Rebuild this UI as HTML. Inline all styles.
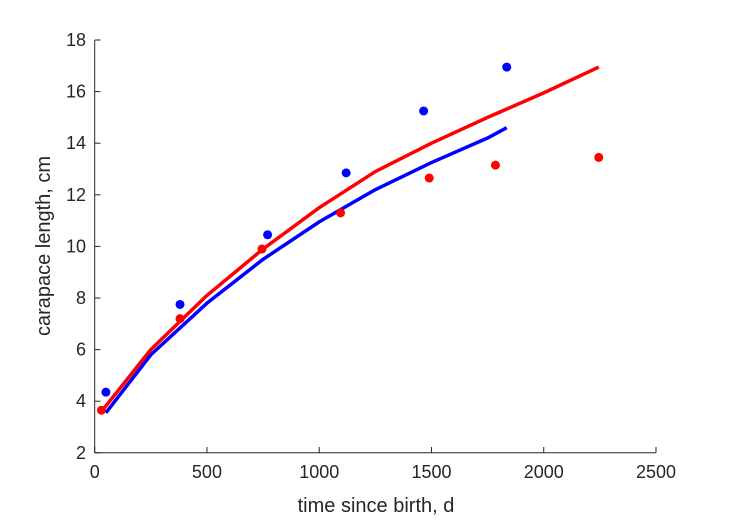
<!DOCTYPE html>
<html><head><meta charset="utf-8"><style>
body{margin:0;background:#fff;}
svg{display:block;font-family:"Liberation Sans",Arial,sans-serif;}
</style></head><body>
<svg id="chart" width="729" height="521" viewBox="0 0 729 521">
<rect width="729" height="521" fill="#fff"/>
<g id="axes"></g>
<g id="marks"></g>
<text x="376" y="512" font-size="20" text-anchor="middle" fill="#262626">time since birth, d</text>
<text transform="translate(50,246) rotate(-90)" font-size="20" text-anchor="middle" fill="#262626">carapace length, cm</text>
</svg>
<script>
const xTicks=[0,500,1000,1500,2000,2500];
const yTicks=[2,4,6,8,10,12,14,16,18];
const blueX=[50,380,770,1120,1465,1835];
const blueY=[4.35,7.75,10.45,12.85,15.25,16.95];
const redX=[30,380,745,1095,1490,1785,2245];
const redY=[3.65,7.2,9.9,11.3,12.65,13.15,13.45];
const blueFitX=[50,250,500,750,1000,1250,1500,1750,1835];
const blueFitY=[3.55,5.8,7.8,9.5,10.95,12.2,13.25,14.2,14.6];
const redFitX=[30,250,500,750,1000,1250,1500,1750,2000,2245];
const redFitY=[3.6,6.0,8.1,9.9,11.5,12.9,14.0,15.0,15.95,16.95];
const NS="http://www.w3.org/2000/svg";
const X=v=>94.7+v*(656-94.7)/2500;
const Y=v=>452.8-(v-2)*(452.8-40)/16;
const axes=document.getElementById('axes'),marks=document.getElementById('marks');
function mk(t,a,p){const e=document.createElementNS(NS,t);for(const k in a)e.setAttribute(k,a[k]);p.appendChild(e);return e;}
let l=mk('line',{x1:94.7,y1:452.8,x2:656,y2:452.8,stroke:'#262626','stroke-width':1},axes);


l=mk('line',{x1:94.7,y1:40,x2:94.7,y2:452.8,stroke:'#262626','stroke-width':1},axes);


xTicks.forEach(v=>{
 const t=mk('line',{x1:X(v),y1:452.8,x2:X(v),y2:447,stroke:'#262626'},axes);
 
 
 const s=mk('text',{x:X(v),y:478,'font-size':18,'text-anchor':'middle',fill:'#262626'},axes);
 s.textContent=v;
 
 
});
yTicks.forEach(v=>{
 const t=mk('line',{x1:94.7,y1:Y(v),x2:100.5,y2:Y(v),stroke:'#262626'},axes);
 
 
 const s=mk('text',{x:86,y:Y(v)+6,'font-size':18,'text-anchor':'end',fill:'#262626'},axes);
 s.textContent=v;
 
 
});
function curve(xs,ys,c,name){
 const p=mk('polyline',{points:xs.map((x,i)=>X(x)+','+Y(ys[i])).join(' '),fill:'none',stroke:c,'stroke-width':3.5,'stroke-linejoin':'round'},marks);
 
 
}
function pts(xs,ys,c,name){
 xs.forEach((x,i)=>{const d=mk('circle',{cx:X(x),cy:Y(ys[i]),r:4.5,fill:c},marks);
 
 });
}
curve(blueFitX,blueFitY,'#0000ff','blue-fit-line');
curve(redFitX,redFitY,'#ff0000','red-fit-line');
pts(blueX,blueY,'#0000ff','blue-point');
pts(redX,redY,'#ff0000','red-point');
</script>
</body></html>
